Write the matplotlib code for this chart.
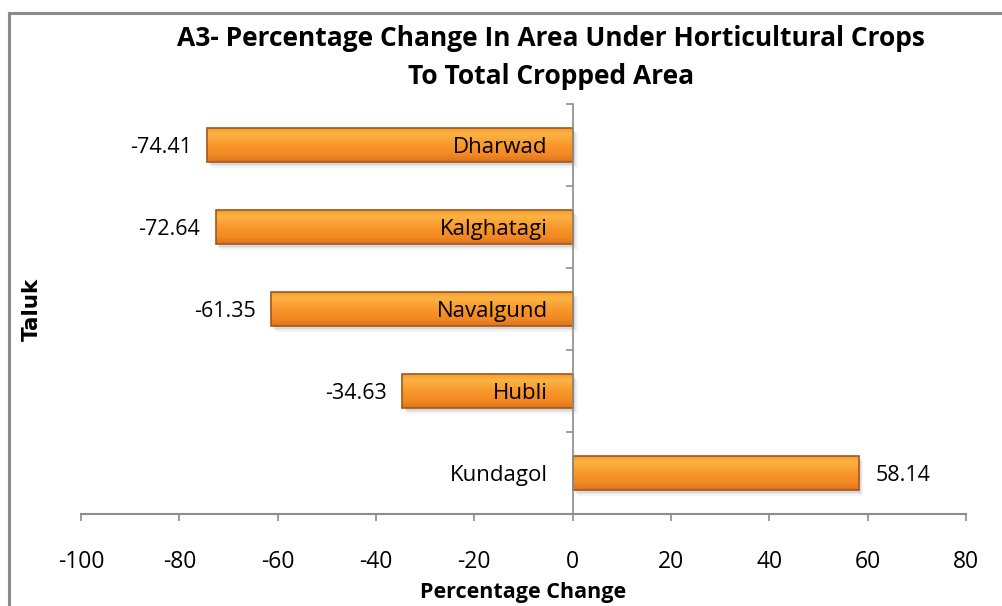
import numpy as np
import matplotlib.pyplot as plt
from matplotlib.colors import LinearSegmentedColormap
from matplotlib.patches import Rectangle
from matplotlib.lines import Line2D
from matplotlib.transforms import offset_copy

# data (bottom to top, as drawn)
taluks = ['Kundagol', 'Hubli', 'Navalgund', 'Kalghatagi', 'Dharwad']
pct_change = [58.14, -34.63, -61.35, -72.64, -74.41]
x_ticks = [-100, -80, -60, -40, -20, 0, 20, 40, 60, 80]

plt.rcParams['font.family'] = ['Open Sans', 'DejaVu Sans']

fig = plt.figure(figsize=(10.03, 6.06), dpi=100)
ax = fig.add_axes([0.0808, 0.1518, 0.8823, 0.6766])

y = np.arange(len(taluks))
bar_h = 0.42
bars = ax.barh(y, pct_change, height=bar_h, color='none',
               edgecolor='#A4561A', linewidth=1.2, zorder=1.3)

# orange gradient fill + soft shadow for each bar
cmap = LinearSegmentedColormap.from_list(
    'orng', ['#F3982F', '#FBB443', '#F9A234', '#F79228', '#F28822', '#DA741E'])
grad = np.linspace(0, 1, 256).reshape(-1, 1)
for b in bars:
    x0, y0, w, h = b.get_x(), b.get_y(), b.get_width(), b.get_height()
    for k, a in enumerate([0.10, 0.08, 0.06]):
        tr = offset_copy(ax.transData, fig=fig, x=1.5 + k, y=-2 - k, units='points')
        ax.add_patch(Rectangle((x0, y0), w, h, transform=tr, facecolor='#555555',
                               edgecolor='none', alpha=a, zorder=1.0))
    im = ax.imshow(grad, extent=[x0, x0 + w, y0, y0 + h], cmap=cmap,
                   aspect='auto', zorder=1.2, interpolation='bilinear')
    im.set_clip_path(b)

ax.set_xlim(-100, 80)
ax.set_ylim(-0.5, len(taluks) - 0.5)

# value labels
for yi, v in zip(y, pct_change):
    if v < 0:
        ax.annotate(f'{v:.2f}', xy=(v, yi), xytext=(-11, -1.5), textcoords='offset points',
                    ha='right', va='center', fontsize=15.5, color='black')
    else:
        ax.annotate(f'{v:.2f}', xy=(v, yi), xytext=(12, -1.5), textcoords='offset points',
                    ha='left', va='center', fontsize=15.5, color='black')

# axes styling
for s in ['top', 'right']:
    ax.spines[s].set_visible(False)
ax.spines['left'].set_position(('data', 0))
ax.spines['left'].set_color('#8C8C8C')
ax.spines['bottom'].set_color('#8C8C8C')
ax.spines['left'].set_linewidth(1.2)
ax.spines['bottom'].set_linewidth(1.5)
ax.set_axisbelow(False)

ax.set_xticks(x_ticks)
ax.set_xticklabels([str(t) for t in x_ticks])
ax.tick_params(axis='x', direction='out', length=5, width=1.2, color='#8C8C8C',
               labelsize=16.5, pad=21)

ax.set_yticks(np.arange(len(taluks) + 1) - 0.5)
ax.set_yticklabels([])
ax.set_yticks(y, minor=True)
ax.set_yticklabels(taluks, minor=True)
ax.tick_params(axis='y', which='major', direction='out', length=5, width=1.2, color='#8C8C8C')
ax.tick_params(axis='y', which='minor', length=0, labelsize=16, pad=18)

# titles
fig.text(0.5494, 0.936, 'A3- Percentage Change In Area Under Horticultural Crops',
         ha='center', va='center', fontsize=19, fontweight='bold')
fig.text(0.5494, 0.873, 'To Total Cropped Area',
         ha='center', va='center', fontsize=19, fontweight='bold')
fig.text(0.5219, 0.022, 'Percentage Change', ha='center', va='center',
         fontsize=15.5, fontweight='bold')
fig.text(0.032, 0.49, 'Taluk', ha='center', va='center', rotation=90,
         fontsize=15.5, fontweight='bold', family='DejaVu Sans')

# chart area border (left and top visible)
fig.add_artist(Line2D([9.5 / 1003, 9.5 / 1003], [0, 1 - 12.5 / 606],
                      transform=fig.transFigure, color='#8C8C8C', linewidth=2.2))
fig.add_artist(Line2D([9.5 / 1003, 1], [1 - 12.5 / 606, 1 - 12.5 / 606],
                      transform=fig.transFigure, color='#8C8C8C', linewidth=2.2))

fig.savefig('out.png', dpi=100)
